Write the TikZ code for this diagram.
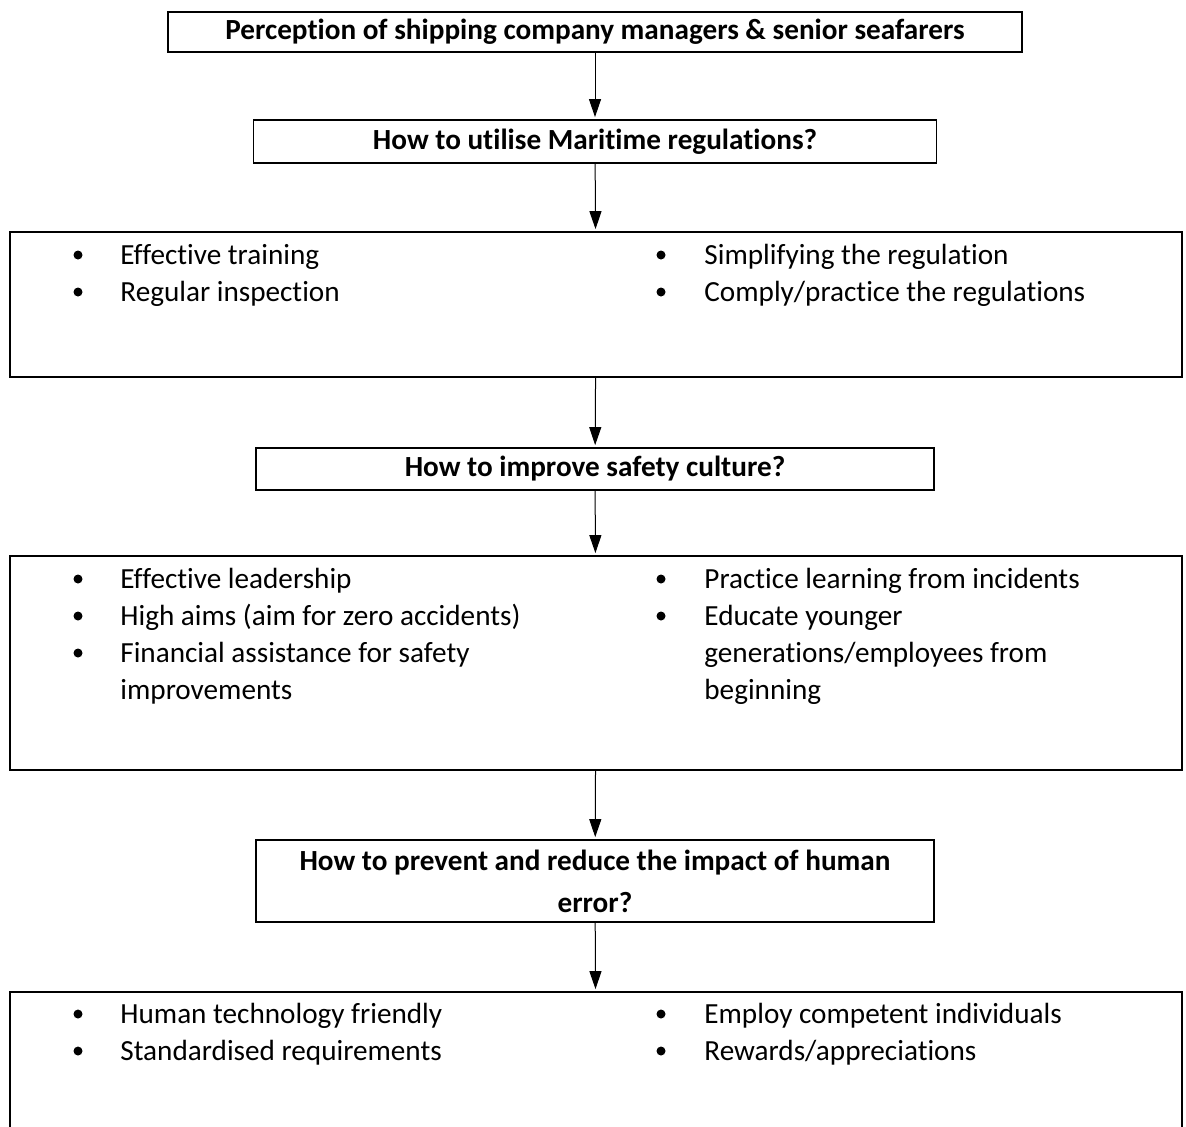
\documentclass[tikz,border=0pt]{standalone}
\usepackage{fontspec}
\setmainfont{Carlito}[Ligatures={NoCommon,NoRequired,NoContextual},RawFeature={-liga;-dlig;-clig}]
\usetikzlibrary{arrows.meta}
\begin{document}
\begin{tikzpicture}[x=0.5pt,y=-0.5pt,
  font=\fontsize{14.6}{18.5}\selectfont,
  head/.style={draw,line width=0.9pt,inner sep=0pt,font=\fontsize{14.6}{21}\selectfont\bfseries,align=center},
  listbox/.style={draw,line width=0.9pt,inner sep=0pt,minimum width=586pt},
  item/.style={anchor=base west,inner sep=0pt},
  arr/.style={-{Triangle[width=6pt,length=9pt]},line width=0.5pt,shorten >=1pt}]
\useasboundingbox (0,0) rectangle (1186,1126);
\clip (0,0) rectangle (1186,1126);

% question boxes
\node[head,minimum width=427pt,minimum height=20pt] (b1) at (595,32)
  {Perception of shipping company managers \& senior seafarers};
\node[head,minimum width=341.5pt,minimum height=21.5pt] (b2) at (595,141.5)
  {How to utilise Maritime regulations?};
\node[head,minimum width=339pt,minimum height=21pt] (b4) at (595,469)
  {How to improve safety culture?};
\node[head,minimum width=339pt,minimum height=41pt] (b6) at (595,881)
  {How to prevent and reduce the impact of human\\error?};

% list boxes
\node[listbox,minimum height=72.5pt] (b3) at (596,304.5) {};
\node[listbox,minimum height=107pt] (b5) at (596,663) {};
\node[listbox,minimum height=100pt] (b7) at (596,1092) {};

% connectors
\draw[arr] (b1) -- (b2);
\draw[arr] (b2) -- (b3);
\draw[arr] (b3) -- (b4);
\draw[arr] (b4) -- (b5);
\draw[arr] (b5) -- (b6);
\draw[arr] (b6) -- (b7);

% bullets
\foreach \y in {264,301, 588,625,662, 1023,1060}
  \fill (78,\y-9) circle[radius=4.5];
\foreach \y in {264,301, 588,625, 1023,1060}
  \fill (661,\y-9) circle[radius=4.5];

% items: regulations
\node[item] (r1) at (120,264) {Effective training};
\node[item] (r2) at (120,301) {Regular inspection};
\node[item] (r3) at (704,264) {Simplifying the regulation};
\node[item] (r4) at (704,301) {Comply/practice the regulations};

% items: safety culture
\node[item] (s1) at (120,588) {Effective leadership};
\node[item] (s2) at (120,625) {High aims (aim for zero accidents)};
\node[item] (s3) at (120,662) {Financial assistance for safety};
\node[item] (s3b) at (120,699) {improvements};
\node[item] (s4) at (704,588) {Practice learning from incidents};
\node[item] (s5) at (704,625) {Educate younger};
\node[item] (s5b) at (704,662) {generations/employees from};
\node[item] (s5c) at (704,699) {beginning};

% items: human error
\node[item] (h1) at (120,1023) {Human technology friendly};
\node[item] (h2) at (120,1060) {Standardised requirements};
\node[item] (h3) at (704,1023) {Employ competent individuals};
\node[item] (h4) at (704,1060) {Rewards/appreciations};
\end{tikzpicture}
\end{document}
